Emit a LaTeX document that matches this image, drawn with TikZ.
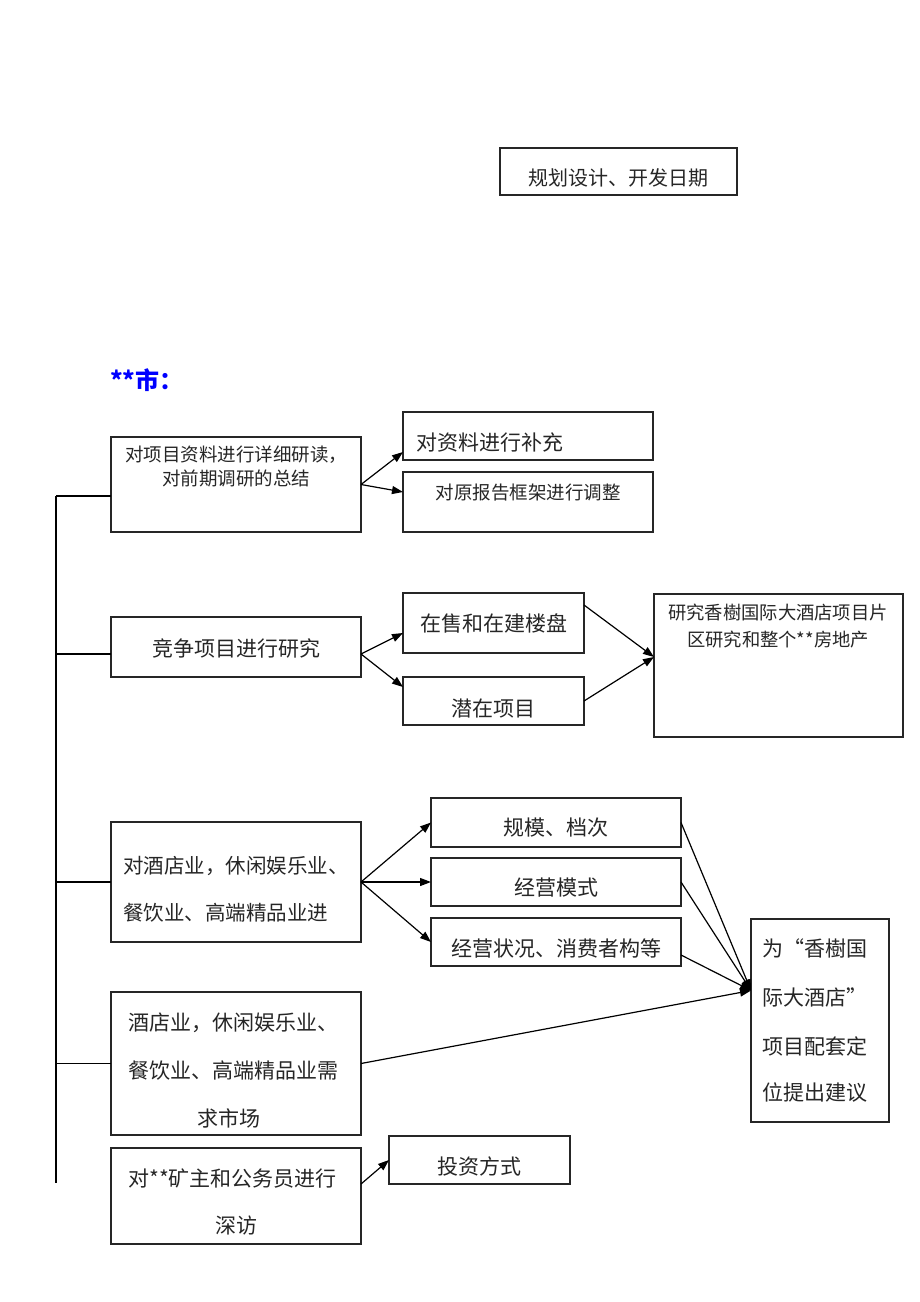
\documentclass[tikz,border=0pt]{standalone}
\usepackage{fontspec}
\setmainfont{Noto Sans CJK SC}
\usetikzlibrary{arrows.meta}
\newcommand\fz[1]{\fontsize{#1}{#1}\selectfont}
\begin{document}
\begin{tikzpicture}[x=1pt,y=-1pt,
  box/.style={draw=black!85,line width=1.2pt,inner sep=0pt,outer sep=0pt},
  txt/.style={inner sep=0pt,text=black!85},
  conn/.style={line width=1.2pt,-{Triangle[length=11pt,width=8pt]}},
  plain/.style={line width=1.1pt}]
\useasboundingbox[fill=white] (0,0) rectangle (920,1302);
% boxes
\node[box,minimum width=237pt,minimum height=47pt] (top) at (618.5,171.5) {};
\node[box,minimum width=250pt,minimum height=95pt] (a1) at (236,484.5) {};
\node[box,minimum width=250pt,minimum height=48pt] (b1) at (528,436) {};
\node[box,minimum width=250pt,minimum height=60pt] (b2) at (528,502) {};
\node[box,minimum width=250pt,minimum height=60pt] (a2) at (236,647) {};
\node[box,minimum width=181pt,minimum height=60pt] (c1) at (493.5,623) {};
\node[box,minimum width=181pt,minimum height=48pt] (c2) at (493.5,701) {};
\node[box,minimum width=249pt,minimum height=143pt] (d) at (778.5,665.5) {};
\node[box,minimum width=250pt,minimum height=120pt] (a3) at (236,882) {};
\node[box,minimum width=250pt,minimum height=49pt] (e1) at (556,822.5) {};
\node[box,minimum width=250pt,minimum height=48pt] (e2) at (556,882) {};
\node[box,minimum width=250pt,minimum height=48pt] (e3) at (556,942) {};
\node[box,minimum width=138pt,minimum height=203pt] (f) at (820,1020.5) {};
\node[box,minimum width=250pt,minimum height=143pt] (a4) at (236,1063.5) {};
\node[box,minimum width=250pt,minimum height=96pt] (a5) at (236,1196) {};
\node[box,minimum width=181pt,minimum height=48pt] (g) at (479.5,1160) {};
% texts
\node[txt,font=\fz{20}] (ttop) at (618,178) {规划设计、开发日期};
\node[txt,anchor=west,font=\fz{24}\bfseries,text=blue] (city) at (110,380) {**市：};
\node[txt,font=\fz{18.5}] (ta1a) at (236,455) {对项目资料进行详细研读，};
\node[txt,font=\fz{18.5}] (ta1b) at (236,478) {对前期调研的总结};
\node[txt,font=\fz{21}] (tb1) at (490,443) {对资料进行补充};
\node[txt,font=\fz{18.5}] (tb2) at (528,493) {对原报告框架进行调整};
\node[txt,font=\fz{21}] (ta2) at (236,648) {竞争项目进行研究};
\node[txt,font=\fz{21}] (tc1) at (494,623) {在售和在建楼盘};
\node[txt,font=\fz{21}] (tc2) at (493,708) {潜在项目};
\node[txt,font=\fz{18.3}] (tda) at (778,613) {研究香樹国际大酒店项目片};
\node[txt,font=\fz{18.3}] (tdb) at (778,640) {区研究和整个**房地产};
\node[txt,anchor=west,font=\fz{20.5}] (ta3a) at (123,866) {对酒店业，休闲娱乐业、};
\node[txt,anchor=west,font=\fz{20.5}] (ta3b) at (123,913) {餐饮业、高端精品业进};
\node[txt,font=\fz{21}] (te1) at (556,828) {规模、档次};
\node[txt,font=\fz{21}] (te2) at (556,888) {经营模式};
\node[txt,font=\fz{21}] (te3) at (556,948) {经营状况、消费者构等};
\node[txt,anchor=west,font=\fz{21}] (tfa) at (762,948) {为“香樹国};
\node[txt,anchor=west,font=\fz{21}] (tfb) at (762,997) {际大酒店”};
\node[txt,anchor=west,font=\fz{21}] (tfc) at (762,1046) {项目配套定};
\node[txt,anchor=west,font=\fz{21}] (tfd) at (762,1093) {位提出建议};
\node[txt,anchor=west,font=\fz{21}] (ta4a) at (128,1023) {酒店业，休闲娱乐业、};
\node[txt,anchor=west,font=\fz{21}] (ta4b) at (128,1071) {餐饮业、高端精品业需};
\node[txt,font=\fz{21}] (ta4c) at (229,1118) {求市场};
\node[txt,anchor=west,font=\fz{21}] (ta5a) at (128,1178) {对**矿主和公务员进行};
\node[txt,font=\fz{21}] (ta5b) at (236,1226) {深访};
\node[txt,font=\fz{21}] (tg) at (479,1166) {投资方式};
% trunk
\coordinate (tk1) at (56,496);
\coordinate (tk2) at (56,1183);
\draw[plain] (tk1) -- (tk2);
\draw[plain] (tk1) -- ([yshift=-11.5pt]a1.west);
\draw[plain] ([yshift=-7pt]a2.west -| tk1) -- ([yshift=-7pt]a2.west);
\draw[plain] (a3.west -| tk1) -- (a3.west);
\draw[plain] (a4.west -| tk1) -- (a4.west);
% arrows
\draw[conn] (a1.east) -- ([yshift=-16pt]b1.west);
\draw[conn] (a1.east) -- ([yshift=10pt]b2.west);
\draw[conn] ([yshift=-7pt]a2.east) -- ([yshift=-10pt]c1.west);
\draw[conn] ([yshift=-7pt]a2.east) -- ([yshift=14pt]c2.west);
\draw[conn] ([yshift=18pt]c1.east) -- ([yshift=8.5pt]d.west);
\draw[conn] (c2.east) -- ([yshift=8.5pt]d.west);
\draw[conn] (a3.east) -- (e1.west);
\draw[conn] (a3.east) -- (e2.west);
\draw[conn] (a3.east) -- (e3.west);
\draw[conn] (e1.east) -- ([yshift=30pt]f.west);
\draw[conn] (e2.east) -- ([yshift=30pt]f.west);
\draw[conn] ([yshift=-13pt]e3.east) -- ([yshift=30pt]f.west);
\draw[conn] (a4.east) -- ([yshift=30pt]f.west);
\draw[conn] ([yshift=12pt]a5.east) -- (g.west);
\end{tikzpicture}
\end{document}
